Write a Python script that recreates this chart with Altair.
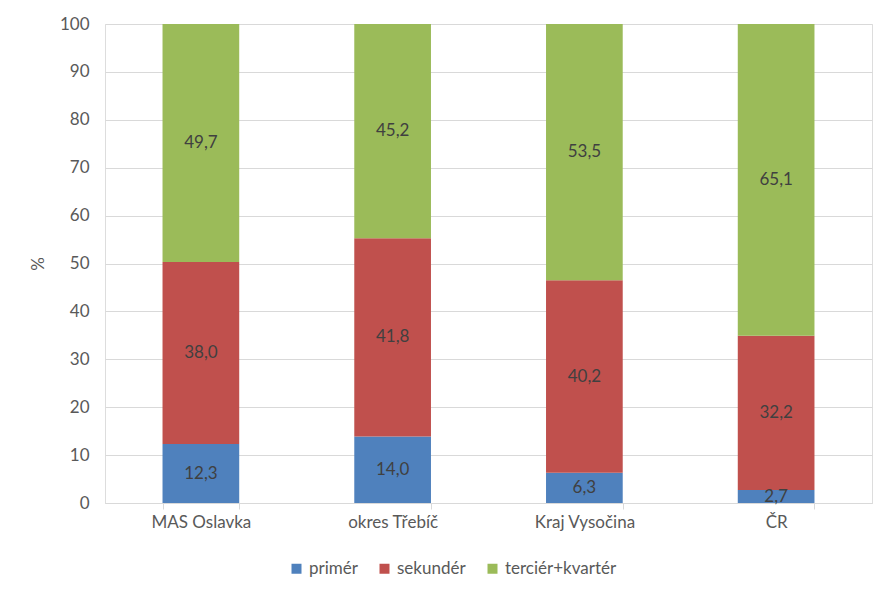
import altair as alt
import pandas as pd

categories = ["MAS Oslavka", "okres Třebíč", "Kraj Vysočina", "ČR"]
series = ["primér", "sekundér", "terciér+kvartér"]
primer = [12.3, 14.0, 6.3, 2.7]
sekunder = [38.0, 41.8, 40.2, 32.2]
tercier = [49.7, 45.2, 53.5, 65.1]
colors = ["#4F81BD", "#C0504D", "#9BBB59"]

rows = []
for i, c in enumerate(categories):
    for j, (s, vals) in enumerate(zip(series, [primer, sekunder, tercier])):
        rows.append({"cat": c, "series": s, "value": vals[i], "ord": j})
df = pd.DataFrame(rows)

FONT = "Lato"

base = alt.Chart(df).transform_joinaggregate(
    total="sum(value)", groupby=["cat"]
).transform_calculate(
    pct="datum.value / datum.total * 100",
    label="replace(format(datum.value, '.1f'), '.', ',')"
).transform_stack(
    stack="pct", groupby=["cat"], as_=["y0", "y1"], sort=[alt.SortField("ord", "ascending")]
).transform_calculate(
    mid="(datum.y0 + datum.y1) / 2"
)

xenc = alt.X(
    "cat:N", sort=categories, title=None,
    scale=alt.Scale(paddingInner=0.6, paddingOuter=0.3),
    axis=alt.Axis(labelAngle=0, labelFont=FONT, labelFontSize=17, labelColor="#595959",
                  domainColor="#D9D9D9", tickColor="#D9D9D9", tickSize=6, tickBand="extent",
                  labelPadding=5, grid=False)
)

bars = base.mark_bar().encode(
    x=xenc,
    y=alt.Y("y0:Q", title="%",
            scale=alt.Scale(domain=[0, 100], nice=False),
            axis=alt.Axis(values=list(range(0, 101, 10)), labelFont=FONT, labelFontSize=17,
                          labelColor="#595959", titleFont=FONT, titleFontSize=17,
                          titleColor="#595959", titleFontWeight="normal", domain=False,
                          ticks=False, gridColor="#D9D9D9", labelPadding=16, titlePadding=12)),
    y2="y1:Q",
    color=alt.Color("series:N", sort=series,
                    scale=alt.Scale(domain=series, range=colors),
                    legend=alt.Legend(title=None, orient="none", direction="horizontal",
                                      legendX=183, legendY=536, symbolType="square",
                                      symbolSize=100, symbolStrokeWidth=0, labelFont=FONT,
                                      labelFontSize=17, labelColor="#595959",
                                      labelOffset=4, columnPadding=18)),
)

text = base.mark_text(font=FONT, fontSize=17, color="#404040").encode(
    x=alt.X("cat:N", sort=categories),
    y=alt.Y("mid:Q"),
    text="label:N",
)

chart = alt.layer(bars, text).properties(
    width=767, height=479,
    autosize=alt.AutoSizeParams(type="none"),
    padding={"left": 97, "top": 16, "right": 16, "bottom": 90},
).configure_view(stroke=None).configure(background="white")

chart.save("out.html", embed_options={"renderer": "svg", "actions": False})
